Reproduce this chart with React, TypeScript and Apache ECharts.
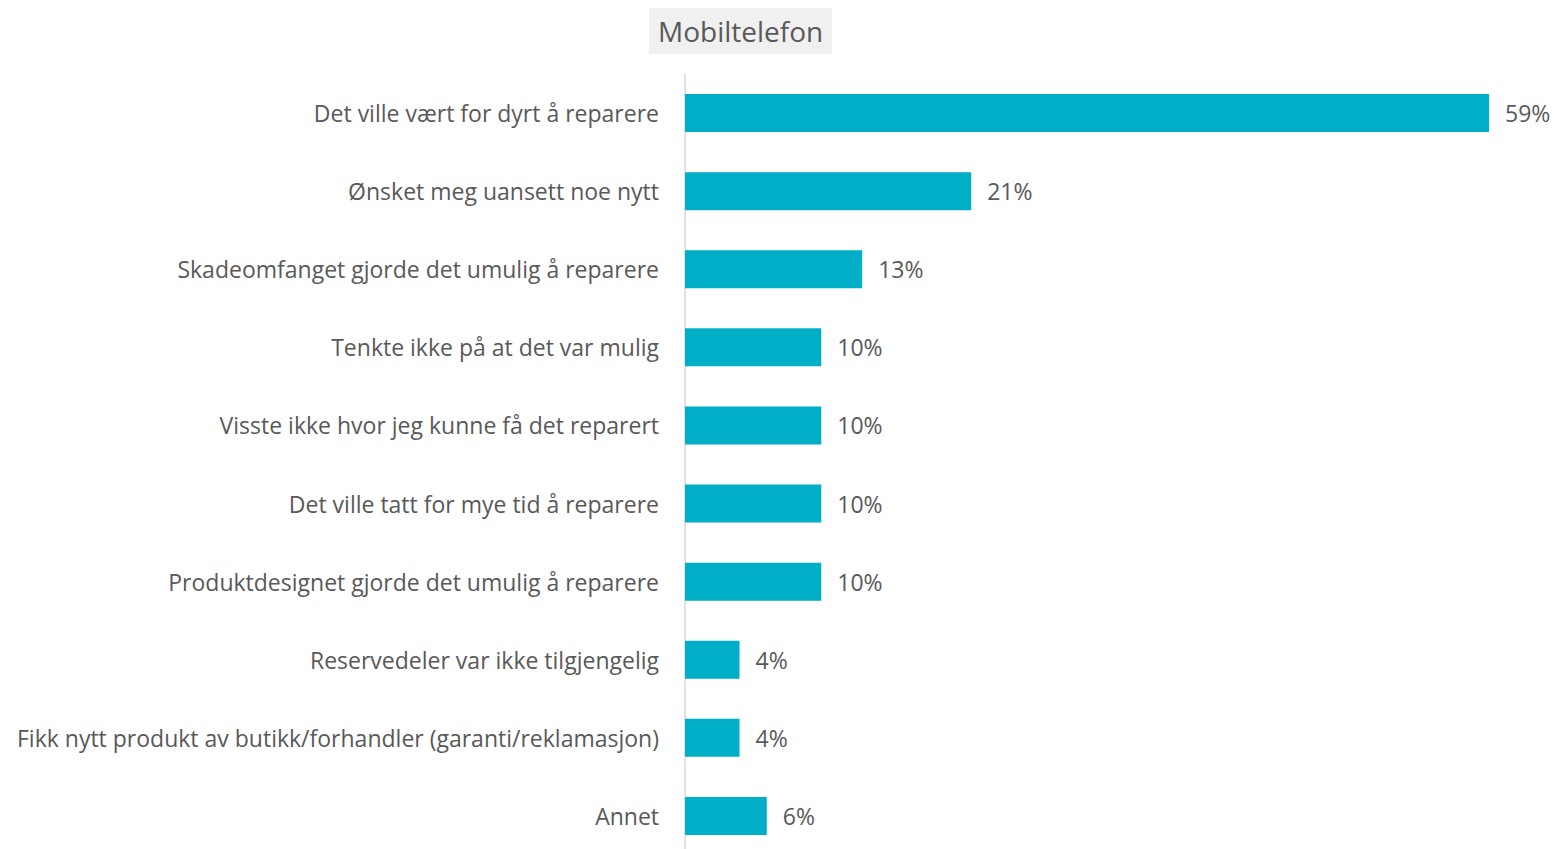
import React, { useEffect, useRef } from "react";
import * as echarts from "echarts";

const categories = [
  "Det ville vært for dyrt å reparere",
  "Ønsket meg uansett noe nytt",
  "Skadeomfanget gjorde det umulig å reparere",
  "Tenkte ikke på at det var mulig",
  "Visste ikke hvor jeg kunne få det reparert",
  "Det ville tatt for mye tid å reparere",
  "Produktdesignet gjorde det umulig å reparere",
  "Reservedeler var ikke tilgjengelig",
  "Fikk nytt produkt av butikk/forhandler (garanti/reklamasjon)",
  "Annet",
];
const values = [59, 21, 13, 10, 10, 10, 10, 4, 4, 6];
const titleText = "Mobiltelefon";

const FONT = "'Open Sans', sans-serif";

export default function App() {
  const ref = useRef<HTMLDivElement>(null);
  useEffect(() => {
    if (!ref.current) return;
    const chart = echarts.init(ref.current, undefined, { renderer: "svg" });
    chart.setOption({
      animation: false,
      backgroundColor: "#ffffff",
      title: {
        text: titleText,
        left: 649,
        top: 8,
        backgroundColor: "#f0f0f0",
        padding: [9, 9, 9, 9],
        textStyle: {
          color: "#595959",
          fontFamily: FONT,
          fontSize: 28,
          fontWeight: "normal",
        },
      },
      grid: { left: 685, top: 74, width: 804, height: 781, containLabel: false },
      xAxis: {
        type: "value",
        min: 0,
        max: 59,
        show: false,
      },
      yAxis: {
        type: "category",
        inverse: true,
        data: categories,
        axisLine: { show: true, lineStyle: { color: "#d9d9d9", width: 1.5 } },
        axisTick: { show: false },
        axisLabel: {
          margin: 26,
          color: "#595959",
          fontFamily: FONT,
          fontSize: 23,
        },
      },
      series: [
        {
          type: "bar",
          data: values,
          barWidth: 38,
          itemStyle: { color: "#00aec7" },
          label: {
            show: true,
            position: "right",
            distance: 16,
            formatter: "{c}%",
            color: "#595959",
            fontFamily: FONT,
            fontSize: 23,
          },
        },
      ],
    });
    return () => chart.dispose();
  }, []);
  return (
    <div
      style={{
        position: "fixed",
        left: 0,
        top: 0,
        width: 1554,
        height: 849,
        overflow: "hidden",
        background: "#fff",
      }}
    >
      <div ref={ref} style={{ width: 1554, height: 880 }} />
    </div>
  );
}
